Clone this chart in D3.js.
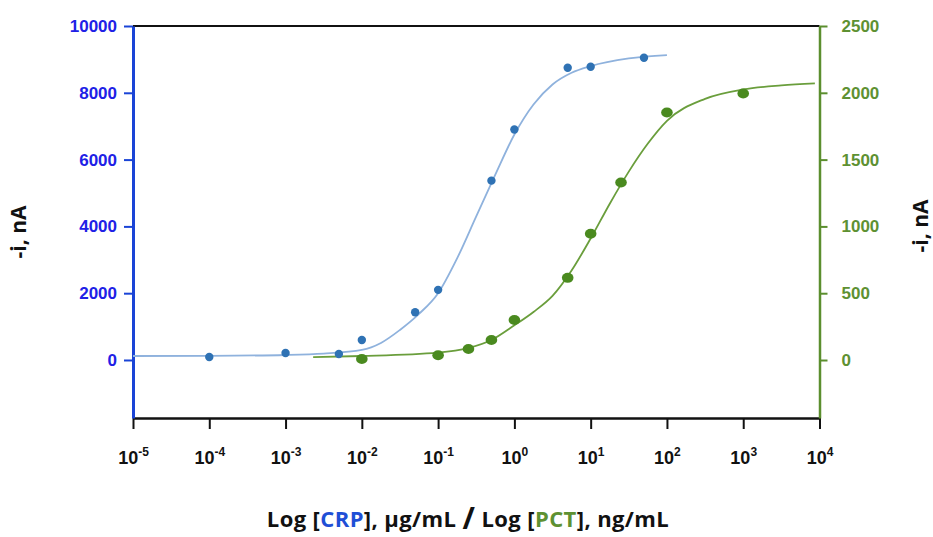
<!DOCTYPE html>
<html>
<head>
<meta charset="utf-8">
<script src="https://cdn.jsdelivr.net/npm/d3@7"></script>
<style>
  html, body { margin: 0; padding: 0; background: #fff; }
  svg { display: block; font-family: "Open Sans", "DejaVu Sans", sans-serif; }
</style>
</head>
<body>
<svg id="chart" width="933" height="537"></svg>
<script>
// ---------- data ----------
const xTickValues = [1e-5, 1e-4, 1e-3, 1e-2, 1e-1, 1e0, 1e1, 1e2, 1e3, 1e4];
const xTickExponents = ["-5", "-4", "-3", "-2", "-1", "0", "1", "2", "3", "4"];
const leftTicks = [0, 2000, 4000, 6000, 8000, 10000];
const rightTicks = [0, 500, 1000, 1500, 2000, 2500];

// CRP measured points (µg/mL, nA) – left axis
const crpConc = [1e-4, 1e-3, 5e-3, 1e-2, 5e-2, 1e-1, 0.5, 1, 5, 10, 50];
const crpCurrent = [90, 210, 180, 600, 1430, 2100, 5370, 6900, 8750, 8780, 9050];

// CRP fitted curve
const crpFitConc = [1e-5, 1e-4, 1e-3, 3.16e-3, 1e-2, 1.78e-2, 3.16e-2, 5.62e-2, 0.1, 0.178, 0.316, 0.562, 1, 1.78, 3.16, 5.62, 10, 31.6, 100];
const crpFitCurrent = [120, 125, 150, 190, 300, 510, 900, 1380, 2000, 3050, 4300, 5550, 6750, 7650, 8250, 8600, 8800, 9030, 9130];

// PCT measured points (ng/mL, nA) – right axis
const pctConc = [0.01, 0.1, 0.25, 0.5, 1, 5, 10, 25, 100, 1000];
const pctCurrent = [8, 35, 82, 150, 300, 615, 945, 1328, 1853, 1995];

// PCT fitted curve
const pctFitConc = [2.3e-3, 1e-2, 0.1, 0.25, 0.5, 1, 1.78, 3.16, 5.62, 10, 17.8, 31.6, 56.2, 100, 316, 1000, 3162, 8700];
const pctFitCurrent = [22, 30, 55, 90, 150, 260, 360, 480, 670, 910, 1170, 1410, 1620, 1790, 1955, 2025, 2055, 2070];

// ---------- layout ----------
const svg = d3.select("#chart");
const pL = 133, pR = 819.5, pT = 26, pB = 418;

const x = d3.scaleLog().domain([1e-5, 1e4]).range([pL, pR]);
const yL = d3.scaleLinear().domain([-1737, 10000]).range([pB, pT]);
const yR = d3.scaleLinear().domain([-434, 2500]).range([pB, pT]);

const blueAxis = "#1a44d6", blueText = "#2020e6";
const greenAxis = "#5b8e2e", greenText = "#5e9132";
const crpLine = "#8fb2dd", crpDot = "#2f72b4";
const pctLine = "#6a9e3c", pctDot = "#4a8a1f";

// top frame line
svg.append("line").attr("x1", pL).attr("x2", pR).attr("y1", pT).attr("y2", pT)
  .attr("stroke", "#111").attr("stroke-width", 2);

// X axis
const xAxis = svg.append("g").attr("transform", `translate(0,${pB})`)
  .call(d3.axisBottom(x).tickValues(xTickValues).tickSize(11).tickSizeOuter(0).tickFormat(""));
xAxis.select(".domain").attr("stroke", "#111").attr("stroke-width", 2.5);
xAxis.selectAll(".tick line").attr("stroke", "#111").attr("stroke-width", 2);
xAxis.selectAll(".tick").each(function(d, i) {
  const t = d3.select(this).append("text")
    .attr("y", 46).attr("fill", "#111").attr("text-anchor", "middle")
    .style("font-size", "18px").style("font-weight", 700);
  t.append("tspan").text("10");
  t.append("tspan").attr("dy", -8).style("font-size", "12px").text(xTickExponents[i]);
});

// left axis
const la = svg.append("g").attr("transform", `translate(${pL},0)`)
  .call(d3.axisLeft(yL).tickValues(leftTicks).tickFormat(d3.format("d"))
    .tickSize(9).tickSizeOuter(0).tickPadding(7));
la.select(".domain").attr("stroke", blueAxis).attr("stroke-width", 3);
la.selectAll(".tick line").attr("stroke", blueAxis).attr("stroke-width", 2);
la.selectAll(".tick text").attr("fill", blueText)
  .style("font-size", "17px").style("font-weight", 700);

// right axis
const ra = svg.append("g").attr("transform", `translate(${pR},0)`)
  .call(d3.axisRight(yR).tickValues(rightTicks).tickFormat(d3.format("d"))
    .tickSize(8).tickSizeOuter(0).tickPadding(14));
ra.select(".domain").attr("stroke", greenAxis).attr("stroke-width", 2.5);
ra.selectAll(".tick line").attr("stroke", greenAxis).attr("stroke-width", 2);
ra.selectAll(".tick text").attr("fill", greenText)
  .style("font-size", "17px").style("font-weight", 700);

// fitted curves
const crpLineGen = d3.line().x((d, i) => x(crpFitConc[i])).y(d => yL(d)).curve(d3.curveMonotoneX);
svg.append("path").datum(crpFitCurrent).attr("d", crpLineGen)
  .attr("fill", "none").attr("stroke", crpLine).attr("stroke-width", 1.8);

const pctLineGen = d3.line().x((d, i) => x(pctFitConc[i])).y(d => yR(d)).curve(d3.curveMonotoneX);
svg.append("path").datum(pctFitCurrent).attr("d", pctLineGen)
  .attr("fill", "none").attr("stroke", pctLine).attr("stroke-width", 1.8);

// points
svg.append("g").selectAll("circle").data(crpCurrent).join("circle")
  .attr("cx", (d, i) => x(crpConc[i])).attr("cy", d => yL(d)).attr("r", 4.2)
  .attr("fill", crpDot);
svg.append("g").selectAll("ellipse").data(pctCurrent).join("ellipse")
  .attr("cx", (d, i) => x(pctConc[i])).attr("cy", d => yR(d)).attr("rx", 5.8).attr("ry", 5)
  .attr("fill", pctDot);

// y titles
svg.append("text").attr("transform", "translate(26,232) rotate(-90)")
  .attr("text-anchor", "middle").attr("fill", "#111")
  .style("font-size", "21px").style("font-weight", 700).text("-i, nA");
svg.append("text").attr("transform", "translate(928,226) rotate(-90)")
  .attr("text-anchor", "middle").attr("fill", "#111")
  .style("font-size", "21px").style("font-weight", 700).text("-i, nA");

// x title
const title = svg.append("text").attr("x", 468).attr("y", 527).attr("text-anchor", "middle")
  .attr("fill", "#111").style("font-size", "22px").style("font-weight", 700)
  .style("letter-spacing", "0.4px");
title.append("tspan").text("Log [");
title.append("tspan").attr("fill", "#1f4fd6").text("CRP");
title.append("tspan").text("], µg/mL ");
title.append("tspan").style("font-size", "30px").attr("dy", 2).text("/");
title.append("tspan").attr("dy", -2).text(" Log [");
title.append("tspan").attr("fill", "#5e9132").text("PCT");
title.append("tspan").text("], ng/mL");
</script>
</body>
</html>
